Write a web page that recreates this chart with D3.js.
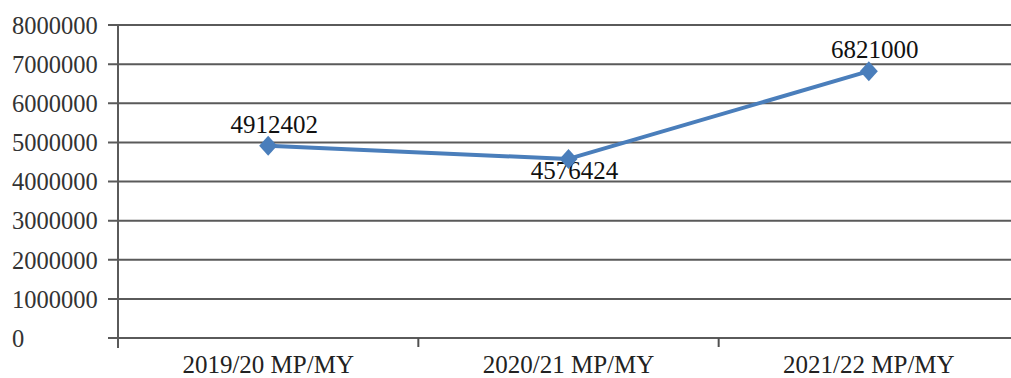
<!DOCTYPE html>
<html>
<head>
<meta charset="utf-8">
<script src="https://cdn.jsdelivr.net/npm/d3@7"></script>
<style>
html,body{margin:0;padding:0;background:#fff;overflow:hidden;}
svg text{font-family:"Liberation Serif","Times New Roman",serif;}
</style>
</head>
<body>
<svg id="chart" width="1011" height="378"></svg>
<script>
const categories = ["2019/20 MP/MY", "2020/21 MP/MY", "2021/22 MP/MY"];
const values = [4912402, 4576424, 6821000];
const yTicks = [0, 1000000, 2000000, 3000000, 4000000, 5000000, 6000000, 7000000, 8000000];
const labelPos = ["above", "below", "above"];

(function () {
const svg = d3.select("#chart");
const mLeft = 118, mRight = 1019, mTop = 25, mBottom = 338;

const x = d3.scaleBand().domain(categories).range([mLeft, mRight]);
const y = d3.scaleLinear().domain([0, 8000000]).range([mBottom, mTop]);

// gridlines
svg.append("g").selectAll("line").data(yTicks).join("line")
  .attr("x1", mLeft - 10).attr("x2", 1011)
  .attr("y1", d => y(d)).attr("y2", d => y(d))
  .attr("stroke", "#5a5a5a").attr("stroke-width", 2);

// y axis line
svg.append("line").attr("x1", mLeft).attr("x2", mLeft)
  .attr("y1", mTop).attr("y2", mBottom + 10)
  .attr("stroke", "#5a5a5a").attr("stroke-width", 2);

// x ticks at band boundaries
const bounds = categories.map(c => x(c)).concat([x(categories[categories.length-1]) + x.bandwidth()]);
svg.append("g").selectAll("line").data(bounds.slice(1)).join("line")
  .attr("x1", d => d).attr("x2", d => d)
  .attr("y1", mBottom).attr("y2", mBottom + 9)
  .attr("stroke", "#505050").attr("stroke-width", 2);

// y labels (left aligned)
svg.append("g").selectAll("text").data(yTicks).join("text")
  .attr("x", 12).attr("y", d => y(d))
  .attr("dy", "0.36em")
  .attr("font-size", 24.5)
  .attr("fill", "#333")
  .text(d => d3.format("d")(d));

// x labels
svg.append("g").selectAll("text").data(categories).join("text")
  .attr("x", d => x(d) + x.bandwidth() / 2)
  .attr("y", 373)
  .attr("text-anchor", "middle")
  .attr("font-size", 25)
  .attr("fill", "#222")
  .text(d => d);

const pts = categories.map((c, i) => ({c, v: values[i], pos: labelPos[i]}));

// data labels (drawn beneath the series)
svg.append("g").selectAll("text").data(pts).join("text")
  .attr("x", d => x(d.c) + x.bandwidth() / 2 + 6)
  .attr("y", d => d.pos === "above" ? y(d.v) - 13 : y(d.v) + 20)
  .attr("text-anchor", "middle")
  .attr("font-size", 25)
  .attr("fill", "#111")
  .text(d => d3.format("d")(d.v));

// line
svg.append("path").datum(pts)
  .attr("d", d3.line().x(d => x(d.c) + x.bandwidth() / 2).y(d => y(d.v)))
  .attr("fill", "none").attr("stroke", "#4a7ebb").attr("stroke-width", 4)
  .attr("stroke-linejoin", "round");

// diamond markers
svg.append("g").selectAll("path").data(pts).join("path")
  .attr("transform", d => `translate(${x(d.c) + x.bandwidth() / 2},${y(d.v)})`)
  .attr("d", "M0,-10L9,0L0,10L-9,0Z")
  .attr("fill", "#4a7ebb");
})();
</script>
</body>
</html>
